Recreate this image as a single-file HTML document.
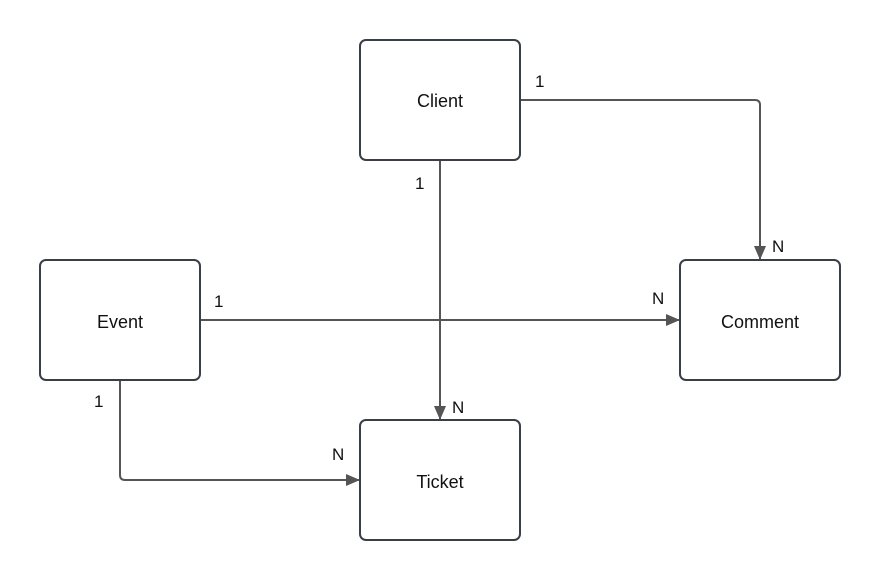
<!DOCTYPE html>
<html><head><meta charset="utf-8"><style>
html,body{margin:0;padding:0;background:#fff;}
svg{display:block;}
text{font-family:"Liberation Sans",sans-serif;fill:#111;}
</style></head><body>
<svg width="880" height="580" viewBox="0 0 880 580" xmlns="http://www.w3.org/2000/svg">
<defs>
<marker id="a" markerWidth="14" markerHeight="12" refX="13" refY="6" orient="auto" markerUnits="userSpaceOnUse">
<path d="M0,0 L14,6 L0,12 Z" fill="#555"/>
</marker>
</defs>
<g fill="none" stroke="#555" stroke-width="2">
<path d="M521,100 H755 Q760,100 760,105 V259" marker-end="url(#a)"/>
<path d="M440,161 V419" marker-end="url(#a)"/>
<path d="M201,320 H679" marker-end="url(#a)"/>
<path d="M120,381 V475 Q120,480 125,480 H359" marker-end="url(#a)"/>
</g>
<g fill="#fff" stroke="#3a3f47" stroke-width="2">
<rect x="360" y="40" width="160" height="120" rx="6"/>
<rect x="40" y="260" width="160" height="120" rx="6"/>
<rect x="680" y="260" width="160" height="120" rx="6"/>
<rect x="360" y="420" width="160" height="120" rx="6"/>
</g>
<g font-size="18" text-anchor="middle">
<text x="440" y="107">Client</text>
<text x="120" y="328">Event</text>
<text x="760" y="328">Comment</text>
<text x="440" y="488">Ticket</text>
</g>
<g font-size="17">
<text x="535" y="87">1</text>
<text x="415" y="189">1</text>
<text x="214" y="307">1</text>
<text x="94" y="407">1</text>
<text x="772" y="252">N</text>
<text x="452" y="413">N</text>
<text x="652" y="304">N</text>
<text x="332" y="460">N</text>
</g>
</svg>
</body></html>
